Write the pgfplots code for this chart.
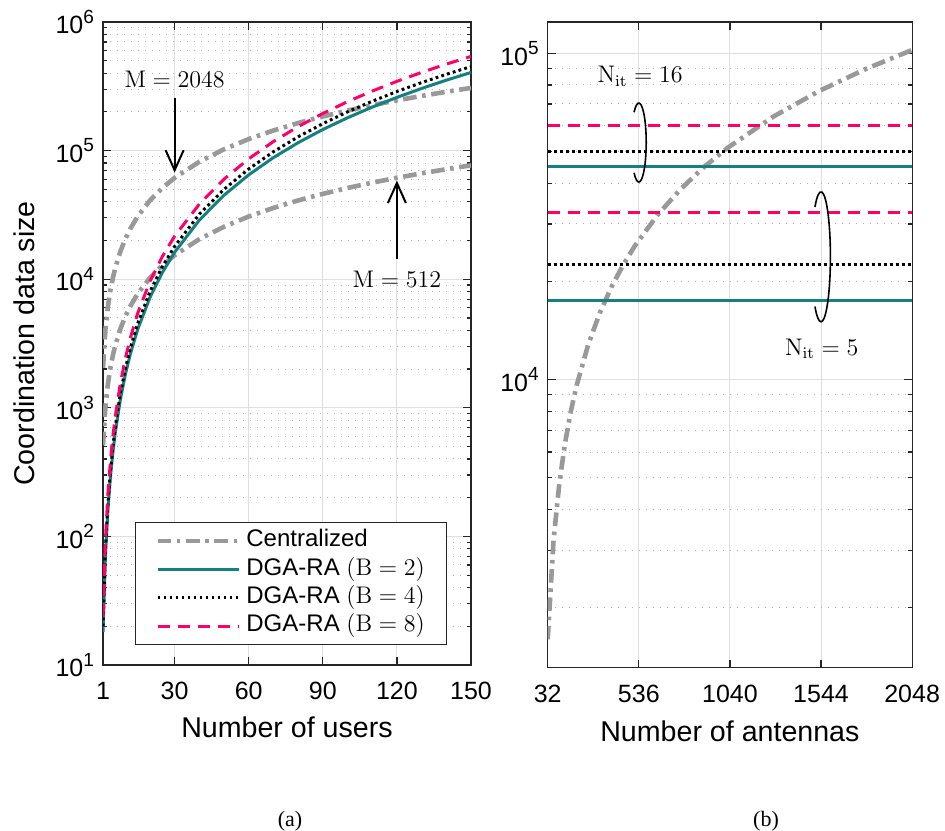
\documentclass[border=0pt]{standalone}
\usepackage[no-math]{fontspec}
\setmainfont{Liberation Sans}
\newfontfamily\capfont{Liberation Serif}
\usepackage{pgfplots}
\pgfplotsset{compat=1.18}
\usetikzlibrary{arrows.meta}

\definecolor{cgray}{RGB}{153,153,153}
\definecolor{cteal}{RGB}{22,127,127}
\definecolor{cpink}{RGB}{255,0,102}
\definecolor{axc}{RGB}{38,38,38}
\definecolor{gridc}{RGB}{223,223,223}
\definecolor{mgridc}{RGB}{175,175,175}

\newcommand{\tenpow}[1]{10\raisebox{0.42em}{\fontsize{9.5}{9.5}\selectfont #1}}

\pgfplotsset{
 mystyle/.style={
  scale only axis,
  axis line style={axc, line width=0.6pt},
  every tick/.style={axc, line width=0.6pt},
  major tick length=4pt, minor tick length=2.2pt,
  tick align=inside,
  grid=both,
  major grid style={gridc, line width=0.5pt},
  minor grid style={mgridc, line width=0.5pt, dash pattern=on 0.5pt off 3pt},
  tick label style={font=\fontsize{12.5}{14}\selectfont},
  label style={font=\fontsize{14.3}{16}\selectfont},
  xticklabel style={yshift=-5.2pt},
  yticklabel style={xshift=-1pt},
 },
 cen/.style={cgray, line width=2.3pt, dash pattern=on 6.8pt off 2.8pt on 1.8pt off 2.8pt},
 dgab2/.style={cteal, line width=1.5pt},
 dgab4/.style={black, line width=1.5pt, dash pattern=on 1.4pt off 1.6pt},
 dgab8/.style={cpink, line width=1.5pt, dash pattern=on 6pt off 4pt},
}

\begin{document}
\begin{tikzpicture}
\useasboundingbox (0,0) rectangle (472.5pt,415pt);

% ---------------- (a) ----------------
\begin{axis}[mystyle,
  at={(51.5pt,82.5pt)}, anchor=south west,
  width=184pt, height=321.5pt,
  ymode=log, log basis y=10,
  xmin=1, xmax=150, ymin=10, ymax=1e6,
  xtick={1,30,60,90,120,150}, xticklabels={1,30,60,90,120,150},
  ytick={10,100,1000,10000,100000,1000000},
  yticklabels={\tenpow{1},\tenpow{2},\tenpow{3},\tenpow{4},\tenpow{5},\tenpow{6}},
  minor ytick={20,30,40,50,60,70,80,90,200,300,400,500,600,700,800,900,2000,3000,4000,5000,6000,7000,8000,9000,20000,30000,40000,50000,60000,70000,80000,90000,200000,300000,400000,500000,600000,700000,800000,900000},
  xlabel={Number of users}, ylabel={Coordination data size},
  xlabel style={at={(axis description cs:0.5,-0.1135)}, anchor=base},
  ylabel style={at={(axis description cs:-0.1848,0.5)}, anchor=base},
  legend style={at={(0.087,0.223)}, anchor=north west, draw=axc, line width=0.6pt, fill=white,
    inner xsep=9.8pt, inner ysep=2.2pt, font=\fontsize{12}{14}\selectfont,
    nodes={inner sep=1pt, text height=9pt, text depth=3.2pt}, column sep=1.5pt, row sep=0pt},
  legend cell align=left,
  legend image code/.code={\draw[#1] (0pt,0pt) -- (40.8pt,0pt);},
]
\addplot[cen] coordinates {(1,2048)(2,4096)(3,6144)(4,8192)(5,10240)(6,12288)(8,16384)(10,20480)(12,24576)(15,30720)(20,40960)(25,51200)(30,61440)(40,81920)(50,102400)(60,122880)(70,143360)(80,163840)(90,184320)(100,204800)(110,225280)(120,245760)(130,266240)(140,286720)(150,307200)};
\addlegendentry{Centralized}
\addplot[cen, forget plot] coordinates {(1,512)(2,1024)(3,1536)(4,2048)(5,2560)(6,3072)(8,4096)(10,5120)(12,6144)(15,7680)(20,10240)(25,12800)(30,15360)(40,20480)(50,25600)(60,30720)(70,35840)(80,40960)(90,46080)(100,51200)(110,56320)(120,61440)(130,66560)(140,71680)(150,76800)};
\addplot[dgab2] coordinates {(1,18)(2,72)(3,162)(4,288)(5,450)(6,648)(8,1152)(10,1800)(12,2592)(15,4050)(20,7200)(25,11250)(30,16200)(40,28800)(50,45000)(60,64800)(70,88200)(80,115200)(90,145800)(100,180000)(110,217800)(120,259200)(130,304200)(140,352800)(150,405000)};
\addlegendentry{DGA-RA $(\mathrm{B} = 2)$}
\addplot[dgab4] coordinates {(1,20)(2,80)(3,180)(4,320)(5,500)(6,720)(8,1280)(10,2000)(12,2880)(15,4500)(20,8000)(25,12500)(30,18000)(40,32000)(50,50000)(60,72000)(70,98000)(80,128000)(90,162000)(100,200000)(110,242000)(120,288000)(130,338000)(140,392000)(150,450000)};
\addlegendentry{DGA-RA $(\mathrm{B} = 4)$}
\addplot[dgab8] coordinates {(1,24)(2,96)(3,216)(4,384)(5,600)(6,864)(8,1536)(10,2400)(12,3456)(15,5400)(20,9600)(25,15000)(30,21600)(40,38400)(50,60000)(60,86400)(70,117600)(80,153600)(90,194400)(100,240000)(110,290400)(120,345600)(130,405600)(140,470400)(150,540000)};
\addlegendentry{DGA-RA $(\mathrm{B} = 8)$}

\node[font=\fontsize{12}{14}\selectfont] at (axis cs:30,3.57e5) {$\mathrm{M} = 2048$};
\draw[-{Straight Barb[length=10pt,width=9pt]}, line width=1pt, black] (axis cs:30,2.58e5) -- (axis cs:30,6.74e4);
\node[font=\fontsize{12}{14}\selectfont] at (axis cs:120,1e4) {$\mathrm{M} = 512$};
\draw[-{Straight Barb[length=10pt,width=9pt]}, line width=1pt, black] (axis cs:120,1.43e4) -- (axis cs:120,5.85e4);
\end{axis}

% ---------------- (b) ----------------
\begin{axis}[mystyle,
  at={(273.85pt,81.15pt)}, anchor=south west,
  width=182.2pt, height=322.85pt,
  ymode=log, log basis y=10,
  xmin=32, xmax=2048, ymin=1310, ymax=1.248e5,
  xtick={32,536,1040,1544,2048}, xticklabels={32,536,1040,1544,2048},
  ytick={10000,100000}, yticklabels={\tenpow{4},\tenpow{5}},
  minor ytick={2000,3000,4000,5000,6000,7000,8000,9000,20000,30000,40000,50000,60000,70000,80000,90000},
  xlabel={Number of antennas},
  xlabel style={at={(axis description cs:0.5,-0.1146)}, anchor=base},
]
\addplot[cen] coordinates {(32,1600)(64,3200)(96,4800)(128,6400)(160,8000)(192,9600)(256,12800)(320,16000)(384,19200)(448,22400)(512,25600)(640,32000)(768,38400)(896,44800)(1024,51200)(1280,64000)(1536,76800)(1792,89600)(2048,102400)};
\addplot[dgab8] coordinates {(32,60000)(2048,60000)};
\addplot[dgab4] coordinates {(32,50000)(2048,50000)};
\addplot[dgab2] coordinates {(32,45000)(2048,45000)};
\addplot[dgab8] coordinates {(32,32500)(2048,32500)};
\addplot[dgab4] coordinates {(32,22500)(2048,22500)};
\addplot[dgab2] coordinates {(32,17500)(2048,17500)};

\draw[line width=0.8pt, black] (axis cs:536,5.33e4) ++(130:3.7pt and 19.75pt) arc[start angle=130, end angle=-130, x radius=3.7pt, y radius=19.75pt];
\draw[line width=0.8pt, black] (axis cs:1544,2.38e4) ++(130:4.7pt and 32.5pt) arc[start angle=130, end angle=-130, x radius=4.7pt, y radius=32.5pt];
\node[font=\fontsize{12}{14}\selectfont] at (axis cs:543,8.51e4) {$\mathrm{N}_{\mathrm{it}} = 16$};
\node[font=\fontsize{12}{14}\selectfont] at (axis cs:1548,1.245e4) {$\mathrm{N}_{\mathrm{it}} = 5$};
\end{axis}

\node[font=\capfont\fontsize{11}{12}\selectfont] at (145pt,4.6pt) {(a)};
\node[font=\capfont\fontsize{11}{12}\selectfont] at (383pt,4.6pt) {(b)};
\end{tikzpicture}
\end{document}
